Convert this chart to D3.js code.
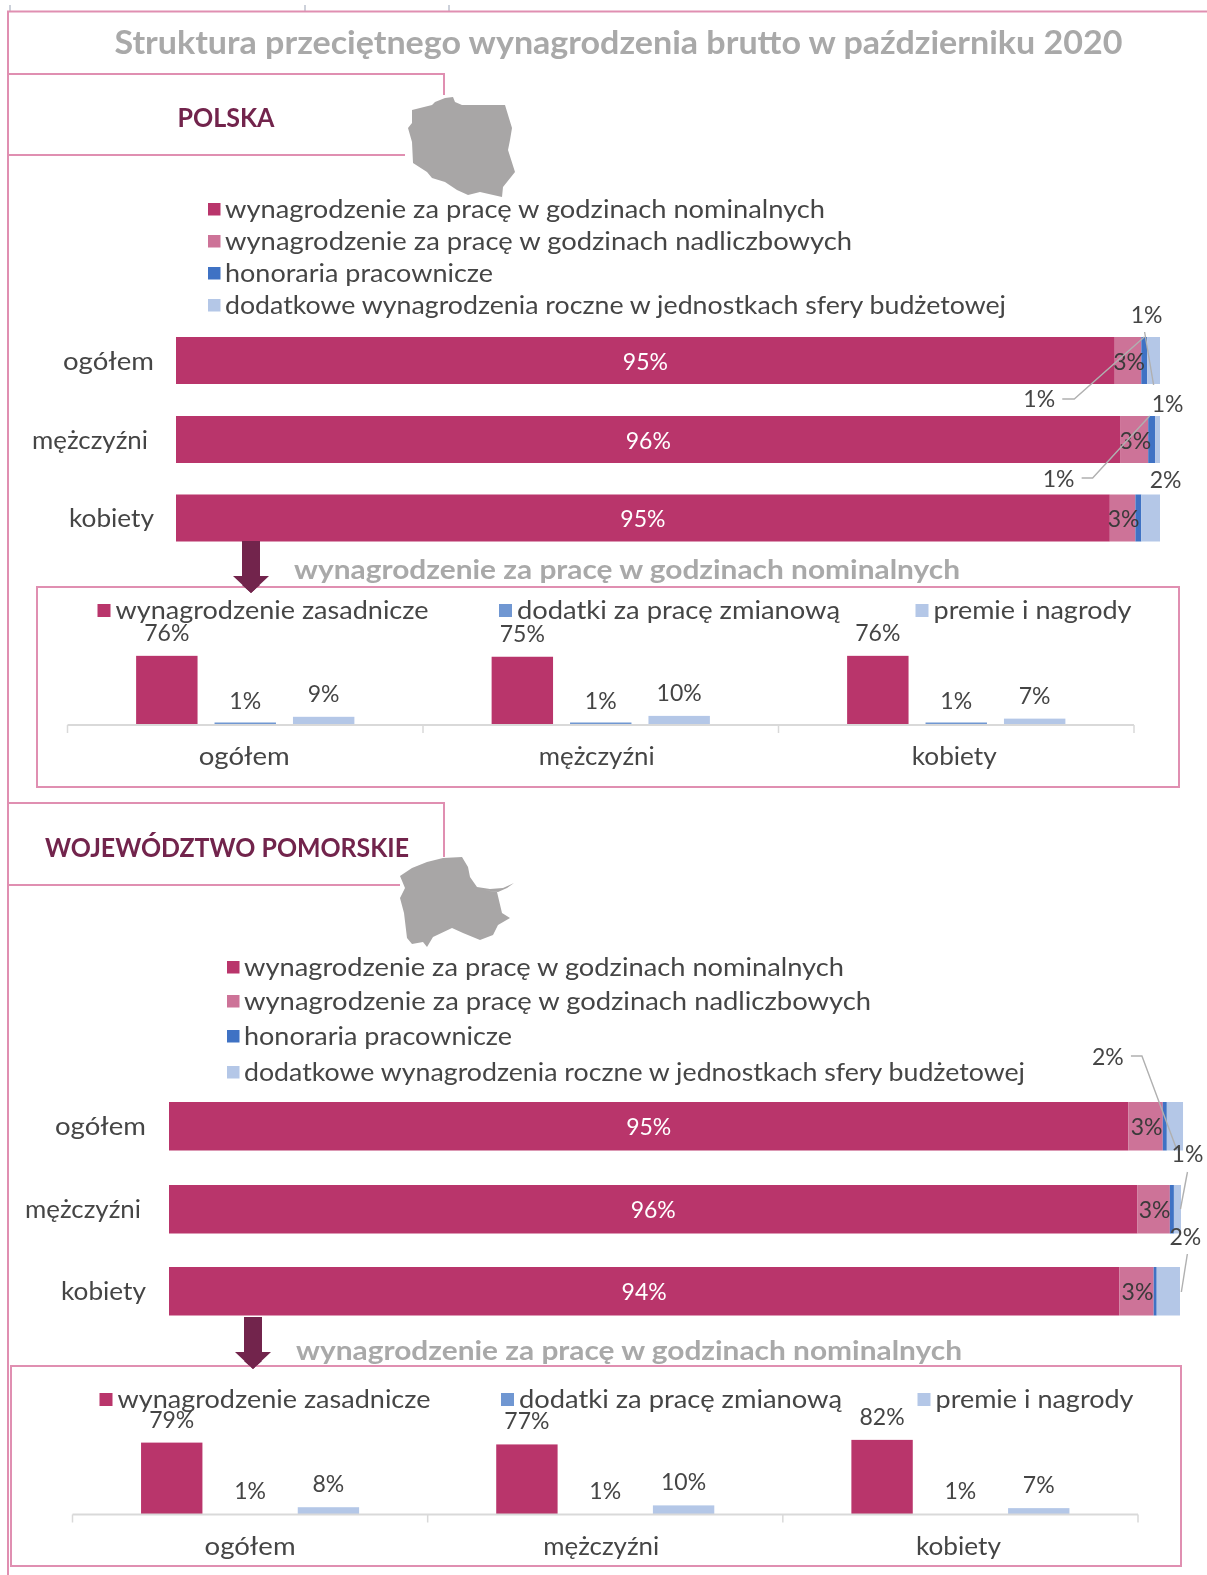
<!DOCTYPE html>
<html><head><meta charset="utf-8"><style>
html,body{margin:0;padding:0;background:#fff}
svg{display:block;filter:blur(.55px)}
text{font-family:"Lato","Open Sans",sans-serif}
</style><script src="https://cdn.jsdelivr.net/npm/d3@7"></script></head><body>
<svg id="c" width="1207" height="1575"></svg>
<script>
const categories=["ogółem","mężczyźni","kobiety"];
const stackSeries=["wynagrodzenie za pracę w godzinach nominalnych","wynagrodzenie za pracę w godzinach nadliczbowych","honoraria pracownicze","dodatkowe wynagrodzenia roczne w jednostkach sfery budżetowej"];
const detailSeries=["wynagrodzenie zasadnicze","dodatki za pracę zmianową","premie i nagrody"];
const subtitle="wynagrodzenie za pracę w godzinach nominalnych";
const title="Struktura przeciętnego wynagrodzenia brutto w październiku 2020";
const polskaNominal=[95.4,96.0,94.9];
const polskaOvertime=[2.7,2.8,2.6];
const polskaFees=[0.6,0.7,0.6];
const polskaAnnual=[1.3,0.5,1.9];
const polskaBase=[76,75,76];
const polskaShift=[1,1,1];
const polskaBonus=[9,10,7];
const pomNominal=[94.8,95.7,93.9];
const pomOvertime=[3.4,3.2,3.4];
const pomFees=[0.4,0.4,0.3];
const pomAnnual=[1.6,0.7,2.3];
const pomBase=[79,77,82];
const pomShift=[1,1,1];
const pomBonus=[8,10,7];
const polskaOutline=[[453,97],[445,98],[435,102],[432,105],[412,110],[412,123],[408,128],[412,142],[413,163],[427,172],[432,178],[445,182],[457,190],[468,195],[480,192],[502,197],[503,187],[515,172],[508,150],[510,140],[512,128],[505,105],[462,105],[455,102]];
const pomOutline=[[462,857],[443,858],[427,862],[412,868],[400,876],[405,888],[400,898],[404,913],[407,938],[412,944],[423,942],[427,947],[433,937],[452,928],[463,933],[480,940],[493,935],[498,925],[510,918],[502,913],[497,892],[483,890],[498,892],[507,888],[514,883],[503,888],[490,889],[477,887],[470,877],[468,867]];

const stackColors=["#b9356b","#cd7398","#3f72c4","#b4c7e7"];
const detailColors=["#b9356b","#7097d2","#b4c7e7"];
const frame="#e08fb1",ink="#454545",grayT="#a9a9a9",wine="#72244c";
const svg=d3.select("#c");

function fit(sel,w){sel.each(function(){this.setAttribute("textLength",w);this.setAttribute("lengthAdjust","spacingAndGlyphs");});return sel;}
function txt(x,y,s,o={}){
  const t=svg.append("text").attr("x",x).attr("y",y).attr("dominant-baseline","central").attr("text-anchor",o.a||"start")
    .attr("font-size",o.fs||24).attr("fill",o.c||ink).attr("font-weight",o.b?700:400).text(s);
  if(o.w)fit(t,o.w);return t;
}
function ln(pts,c=frame,w=2){svg.append("path").attr("d",d3.line()(pts)).attr("fill","none").attr("stroke",c).attr("stroke-width",w);}

// page frame
[10,305,449].forEach(x=>ln([[x,5],[x,12]],"#9aa3b5",1));
ln([[1207,11.5],[8,11.5],[8,1575]]);
txt(114.5,41,title,{fs:33,b:1,c:grayT,w:1008});

function section(cfg){
  ln([[8,cfg.headTop],[444,cfg.headTop],[444,cfg.headTop+cfg.headDrop]]);
  ln([[8,cfg.headBot],[cfg.headBotEnd,cfg.headBot]]);
  txt(cfg.headX,cfg.headY,cfg.head,{fs:27,b:1,c:wine,w:cfg.headW});
  svg.append("path").attr("d",d3.line().curve(d3.curveLinearClosed)(cfg.outline)).attr("fill","#a8a6a6");
  // legend
  stackSeries.forEach((s,i)=>{
    svg.append("rect").attr("x",cfg.legX).attr("y",cfg.legY[i]-6).attr("width",12.5).attr("height",12.5).attr("fill",stackColors[i]);
    txt(cfg.legX+17,cfg.legY[i]-1,s,{fs:25,w:cfg.legW[i]});
  });
  // stacked bars
  const rows=categories.map((c,i)=>({cat:c,v:cfg.series.map(a=>a[i])}));
  const x=d3.scaleLinear().domain([0,100]).range(cfg.xr);
  const stack=d3.stack().keys([0,1,2,3]).value((d,k)=>d.v[k])(rows);
  const yTop=i=>cfg.barTop[i];
  stack.forEach((layer,k)=>{
    svg.append("g").selectAll("rect").data(layer).join("rect")
      .attr("x",d=>x(d[0])).attr("width",d=>x(d[1])-x(d[0]))
      .attr("y",(d,i)=>yTop(i)).attr("height",cfg.barH).attr("fill",stackColors[k]);
  });
  categories.forEach((c,i)=>txt(cfg.catX[i],cfg.barTop[i]+cfg.barH/2-1,c,{a:"end",fs:25,w:cfg.catW[i]}));
  const fmt=v=>Math.round(v)+"%";
  stack.forEach((layer,k)=>{ if(k>1)return;
    layer.forEach((d,i)=>txt((x(d[0])+x(d[1]))/2+(k?1:0),cfg.barTop[i]+cfg.barH/2,fmt(d[1]-d[0]),{a:"middle",fs:23,c:k?"#3a3a3a":"#fff"}));
  });
  // outside labels with leaders: offsets relative to the segment's centre / bar top
  cfg.notes.forEach(n=>{
    const d=stack[n.k][n.r], cx=(x(d[0])+x(d[1]))/2, ty=cfg.barTop[n.r];
    txt(cx+n.dx,ty+n.dy-1,fmt(d[1]-d[0]),{a:"middle",fs:23});
    if(n.lead)ln(n.lead.map(p=>[cx+p[0],ty+p[1]]),"#b0b0b0",1.4);
  });
  // arrow
  const ax=cfg.arrowX,a0=cfg.arrowY,a1=cfg.arrowTip;
  svg.append("path").attr("fill",wine).attr("d",d3.line()([[ax-9,a0],[ax+9,a0],[ax+9,a1-17],[ax+18,a1-17],[ax,a1],[ax-18,a1-17],[ax-9,a1-17]]));
  txt(cfg.subX,cfg.subY,subtitle,{fs:27,b:1,c:grayT,w:666});
  // detail box
  svg.append("rect").attr("x",cfg.box[0]).attr("y",cfg.box[1]).attr("width",cfg.box[2]-cfg.box[0]).attr("height",cfg.box[3]-cfg.box[1]).attr("fill","none").attr("stroke",frame).attr("stroke-width",2);
  // re-draw arrow tip over the box line
  svg.append("path").attr("fill",wine).attr("d",d3.line()([[ax-9,a1-8],[ax+9,a1-8],[ax,a1]]));
  detailSeries.forEach((s,i)=>{
    svg.append("rect").attr("x",cfg.dLegX[i]).attr("y",cfg.dLegY-6).attr("width",13).attr("height",13).attr("fill",detailColors[i]);
    txt(cfg.dLegX[i]+18,cfg.dLegY-1,s,{fs:25,w:cfg.dLegW[i]});
  });
  const gx=d3.scaleBand().domain(categories).range(cfg.axisX);
  const ix=d3.scaleBand().domain([0,1,2]).range([0,gx.bandwidth()]).paddingInner(.2166).paddingOuter(.875);
  const yS=d3.scaleLinear().domain([0,100]).range([cfg.axisY,cfg.axisY-91]);
  cfg.detail.forEach((arr,k)=>{
    categories.forEach((c,i)=>{
      const v=arr[i],bx=gx(c)+ix(k);
      const h=Math.max(cfg.axisY-yS(v),cfg.minBar);
      if(h>0&&(k!==1||cfg.minBar>0))
        svg.append("rect").attr("x",bx).attr("y",cfg.axisY-h).attr("width",ix.bandwidth()).attr("height",h).attr("fill",detailColors[k]);
      txt(bx+ix.bandwidth()/2,yS(v)-24,v+"%",{a:"middle",fs:23});
    });
  });
  const ag=svg.append("g").attr("transform",`translate(0,${cfg.axisY})`);
  ag.append("path").attr("d",d3.line()([cfg.axisX[0],cfg.axisX[1]].map(p=>[p,0]))).attr("stroke","#d9d9d9").attr("stroke-width",2);
  const edges=[...categories.map(c=>gx(c)),cfg.axisX[1]];
  edges.forEach(e=>ag.append("line").attr("x1",e).attr("x2",e).attr("y1",0).attr("y2",8).attr("stroke","#d9d9d9").attr("stroke-width",1.5));
  categories.forEach((c,i)=>txt(gx(c)+gx.bandwidth()/2+cfg.labDx[i],cfg.axisY+30,c,{a:"middle",fs:25,w:cfg.catW[i]}));
}

section({head:"POLSKA",headTop:74,headDrop:21,headBot:155,headBotEnd:405,headX:177.5,headY:116,headW:97,outline:polskaOutline,
 legX:208,legY:[209,241,273,305],legW:[600,627,268,781],
 series:[polskaNominal,polskaOvertime,polskaFees,polskaAnnual],xr:[176,1160],barTop:[337,416,494.5],barH:47,
 catX:[154,148,154],catW:[91,116,85],
 notes:[{k:2,r:0,dx:-105,dy:62,lead:[[-82,62],[-70,62],[0,0]]},{k:3,r:0,dx:-7,dy:-22,lead:[[-9,-5],[0,48]]},
        {k:2,r:1,dx:-93,dy:63,lead:[[-70,62],[-59,62],[-2,0]]},{k:3,r:1,dx:10,dy:-12},{k:3,r:2,dx:15,dy:-15}],
 arrowX:251,arrowY:541,arrowTip:593,subX:294,subY:568,box:[37,587,1179,787],
 dLegX:[97.5,499,915.5],dLegY:610,dLegW:[313,323,198],axisX:[67.5,1134],axisY:725,labDx:[-1,-4,-2],minBar:2.5,
 detail:[polskaBase,polskaShift,polskaBonus]});

section({head:"WOJEWÓDZTWO POMORSKIE",headTop:803,headDrop:54,headBot:885,headBotEnd:400,headX:45,headY:846,headW:364,outline:pomOutline,
 legX:227,legY:[967,1001,1036,1072],legW:[600,627,268,781],
 series:[pomNominal,pomOvertime,pomFees,pomAnnual],xr:[169,1181],barTop:[1102,1185,1267],barH:48.5,
 catX:[146,141,146],catW:[91,116,85],
 notes:[{k:3,r:0,dx:-67,dy:-45,lead:[[-44,-46],[-33,-46],[2,48]]},{k:3,r:1,dx:10,dy:-31,lead:[[10,-13],[3,24]]},{k:3,r:2,dx:17,dy:-30,lead:[[19,-13],[13,25]]}],
 arrowX:253,arrowY:1317,arrowTip:1369,subX:296,subY:1349,box:[11,1366,1181,1566],
 dLegX:[99.5,501,917.5],dLegY:1399,dLegW:[313,323,198],axisX:[72.5,1138],axisY:1514.5,labDx:[0,-4,-2],minBar:0,
 detail:[pomBase,pomShift,pomBonus]});
</script></body></html>
